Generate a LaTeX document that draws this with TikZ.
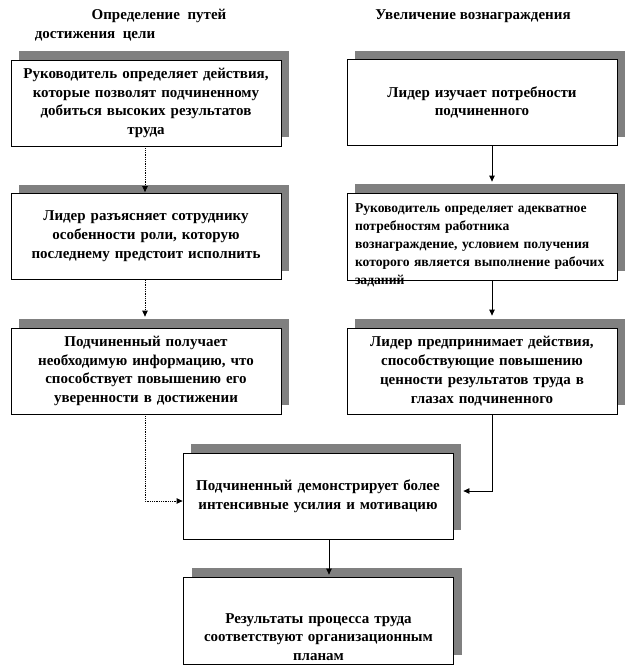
\documentclass[tikz,border=0pt]{standalone}
\usepackage{fontspec}
\setmainfont{Liberation Serif}
\usetikzlibrary{arrows.meta,calc,shadows}
\newcommand{\pgText}{\fontsize{15pt}{18.8pt}\selectfont\bfseries}
\newcommand{\pgTight}{\fontsize{13.6pt}{18pt}\selectfont\bfseries}
\definecolor{PGShadow}{HTML}{808080}
\tikzset{
  pgBox/.style={
    rectangle, draw=black, fill=white, line width=0.8pt,
    drop shadow={shadow xshift=8pt, shadow yshift=9pt, fill=PGShadow, opacity=1},
    align=center, text=black, text width=254pt, minimum width=269pt, minimum height=86pt,
    inner xsep=8pt, inner ysep=2pt, font=\pgText
  },
  pgHead/.style={inner sep=0pt, font=\pgText},
  pgDotted/.style={-{Triangle[length=6pt,width=5.5pt]}, draw=black, line width=0.8pt, densely dotted},
  pgSolid/.style={-{Triangle[length=6pt,width=5.5pt]}, draw=black, line width=0.8pt}
}

\begin{document}
\begin{tikzpicture}[x=1pt, y=-1pt]
  \useasboundingbox (0,0) rectangle (637,667);

  % column headers
  \node[pgHead] (pathHeadA) at (159,16) {Определение\ \ путей};
  \node[pgHead] (pathHeadB) at (95,36) {достижения\ \ цели};
  \node[pgHead] (rewardHead) at (473,16) {Увеличение вознаграждения};

  % left column
  \node[pgBox] (pathDef) at (146,103) {Руководитель определяет действия,\\ которые позволят подчиненному\\ добиться высоких результатов\\ труда};
  \node[pgBox] (pathRole) at (146,236.5) {Лидер разъясняет сотруднику\\ особенности роли, которую\\ последнему предстоит исполнить};
  \node[pgBox] (pathInfo) at (146,371) {Подчиненный получает\\ необходимую информацию, что\\ способствует повышению его\\ уверенности в достижении};

  % right column
  \node[pgBox] (needStudy) at (482,102.5) {Лидер изучает потребности\\ подчиненного};
  \node[pgBox, align=left, font=\pgTight, inner ysep=0pt, text height=19pt, text depth=68pt] (needReward) at (482,236.5) {Руководитель определяет адекватное\\ потребностям работника\\ вознаграждение, условием получения\\ которого является выполнение рабочих\\ заданий};
  \node[pgBox] (needValue) at (482,371) {Лидер предпринимает действия,\\ способствующие повышению\\ ценности результатов труда в\\ глазах подчиненного};

  % joint part
  \node[pgBox] (effort) at (318,496) {Подчиненный демонстрирует более\\ интенсивные усилия и мотивацию};
  \node[pgBox, inner ysep=0pt, text height=46pt, text depth=41pt] (result) at (318.5,620.5) {Результаты процесса труда\\ соответствуют организационным\\ планам};

  \coordinate (lcol) at (145,0);
  \coordinate (rcol) at (492,0);
  \coordinate (ccol) at (329,0);

  \draw[pgDotted] (pathDef.south -| lcol) -- ($(pathRole.north -| lcol)+(0,-1)$);
  \draw[pgDotted] (pathRole.south -| lcol) -- ($(pathInfo.north -| lcol)+(0,-11)$);
  \draw[pgDotted] (pathInfo.south -| lcol) |- ($(effort.west)+(0,5)$);
  \draw[pgSolid] (needStudy.south -| rcol) -- ($(needReward.north -| rcol)+(0,-11)$);
  \draw[pgSolid] (needReward.south -| rcol) -- ($(needValue.north -| rcol)+(0,-12)$);
  \draw[pgSolid] (needValue.south -| rcol) |- ($(effort.east)+(10,-5)$);
  \draw[pgSolid] (effort.south -| ccol) -- ($(result.north -| ccol)+(0,-2)$);
\end{tikzpicture}
\end{document}
